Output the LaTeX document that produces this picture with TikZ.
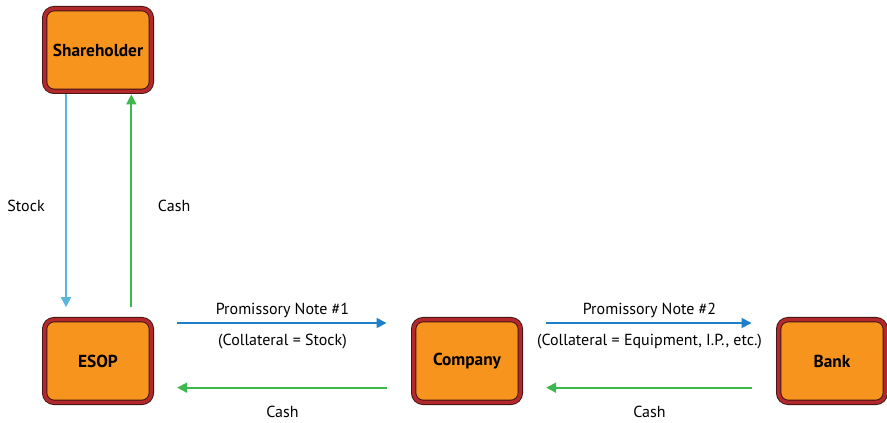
\documentclass[tikz,border=0pt]{standalone}
\usepackage{fontspec}
\setmainfont{PT Sans}
\usetikzlibrary{arrows.meta}
\definecolor{boxFill}{HTML}{F7941D}
\definecolor{boxRim}{HTML}{B3282B}
\definecolor{boxEdge}{HTML}{3C1414}
\definecolor{noteBlue}{HTML}{1F80C9}
\definecolor{stockBlue}{HTML}{5AB6DA}
\definecolor{cashGreen}{HTML}{3DB84C}
\tikzstyle{flowChart} = [x = .75pt, y = -.75pt]
\tikzstyle{partyBox} = [draw=boxEdge, double=boxRim, double distance=2.6pt, line width=.7pt, fill=boxFill, rounded corners=7pt, minimum width=80pt, minimum height=62pt, font=\bfseries\fontsize{13}{15}\selectfont]
\tikzstyle{flowLine} = [line width=1.3pt, -{Triangle[length=7.5pt, width=7.5pt]}]
\tikzstyle{noteArrow} = [flowLine, color=noteBlue, shorten <=19pt, shorten >=20pt]
\tikzstyle{cashArrow} = [flowLine, color=cashGreen, shorten <=20pt, shorten >=19pt]
\tikzstyle{flowText} = [font=\fontsize{12}{14}\selectfont, text=black]
\newcommand{\party}[4]{\node [partyBox] (#1) at (#2, #3) {#4};}
\begin{document}
\begin{tikzpicture}[flowChart]
\useasboundingbox (0,0) rectangle (887,423);
\party{holder}{98}{50}{Shareholder}
\party{esop}{98}{361}{ESOP}
\party{company}{467}{361}{Company}
\party{bank}{832}{361}{Bank}
% shares go down to the ESOP, cash goes back up
\draw [flowLine, color=stockBlue, shorten <=1.5pt, shorten >=9pt] ([xshift=-24pt]holder.south) -- ([xshift=-24pt]esop.north) node [flowText, midway, left=12pt] {Stock};
\draw [flowLine, color=cashGreen, shorten <=9pt, shorten >=2pt] ([xshift=25pt]esop.north) -- ([xshift=25pt]holder.south) node [flowText, midway, right=16pt] {Cash};
% notes to the right, cash to the left
\draw [noteArrow] ([yshift=28.5pt]esop.east) -- ([yshift=28.5pt]company.west) node [flowText, midway, above=0pt] {Promissory Note \#1} node [flowText, midway, below=4.5pt] {(Collateral = Stock)};
\draw [cashArrow] ([yshift=-20pt]company.west) -- ([yshift=-20pt]esop.east) node [flowText, midway, below=10pt] {Cash};
\draw [noteArrow] ([yshift=28.5pt]company.east) -- ([yshift=28.5pt]bank.west) node [flowText, midway, above=0pt] {Promissory Note \#2} node [flowText, midway, below=4.5pt] {(Collateral = Equipment, I.P., etc.)};
\draw [cashArrow] ([yshift=-20pt]bank.west) -- ([yshift=-20pt]company.east) node [flowText, midway, below=10pt] {Cash};
\end{tikzpicture}
\end{document}
